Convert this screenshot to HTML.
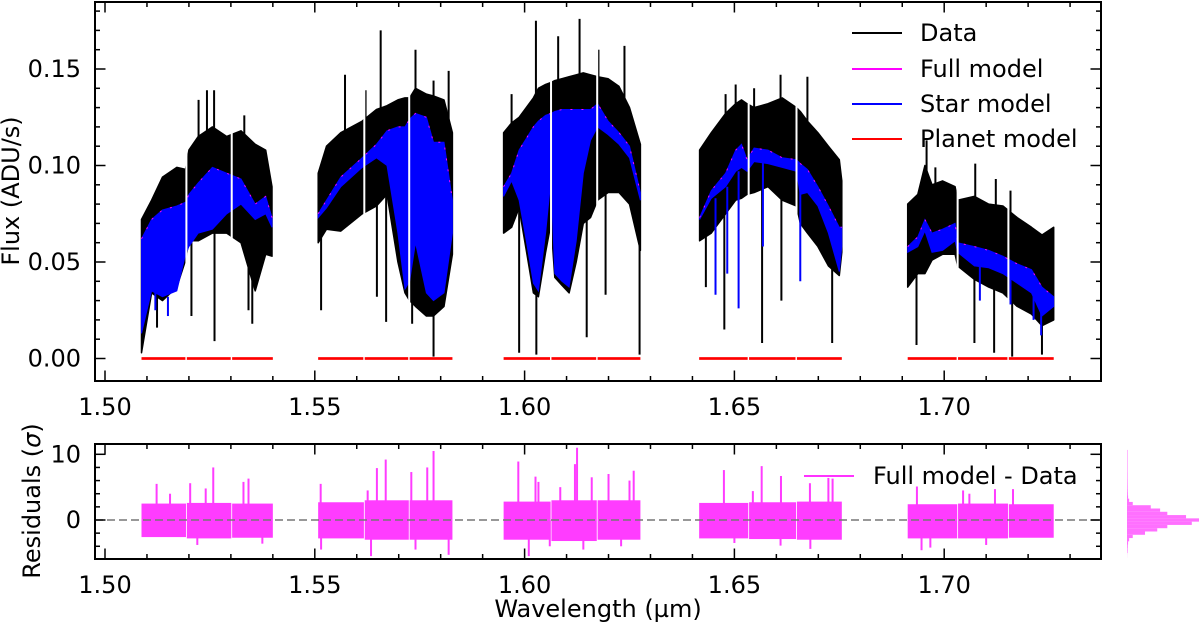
<!DOCTYPE html>
<html><head><meta charset="utf-8">
<style>
html,body{margin:0;padding:0;background:#fff;}
svg{display:block;font-family:"DejaVu Sans","Liberation Sans",sans-serif;}
</style></head>
<body>
<svg id="chart" width="1200" height="626" viewBox="0 0 1200 626" xmlns="http://www.w3.org/2000/svg">
<defs>
<clipPath id="clipTop"><rect x="95" y="2" width="1006" height="379"/></clipPath>
<clipPath id="clipBot"><rect x="95" y="444" width="1006" height="115"/></clipPath>
</defs>
<g id="top-data" clip-path="url(#clipTop)"></g>
<g id="bot-data" clip-path="url(#clipBot)"></g>
<g id="hist"></g>
<g id="axes"></g>
<text x="19" y="191" font-size="24" text-anchor="middle" transform="rotate(-90 19 191)">Flux (ADU/s)</text>
<text x="40" y="501" font-size="24" text-anchor="middle" transform="rotate(-90 40 501)">Residuals (<tspan font-style="italic">σ</tspan>)</text>
<text x="598" y="617" font-size="24" text-anchor="middle">Wavelength (µm)</text>
<g>
 <g><line x1="852" y1="33" x2="902" y2="33" stroke="#000" stroke-width="2"/><text x="920" y="41" font-size="24">Data</text></g>
 <g><line x1="852" y1="69" x2="902" y2="69" stroke="#ff00ff" stroke-width="2"/><text x="920" y="77" font-size="24">Full model</text></g>
 <g><line x1="852" y1="104" x2="902" y2="104" stroke="#0000ff" stroke-width="2"/><text x="920" y="112" font-size="24">Star model</text></g>
 <g><line x1="852" y1="139" x2="902" y2="139" stroke="#ff0000" stroke-width="2"/><text x="920" y="147" font-size="24">Planet model</text></g>
</g>
<g>
 <g><line x1="804" y1="476" x2="854" y2="476" stroke="#ff33ff" stroke-width="2"/><text x="873" y="484" font-size="24">Full model - Data</text></g>
</g>
</svg>
<script>
// ---- chip ranges (µm) ----
const chipStart=[1.5087,1.5195,1.5303,1.5508,1.5619,1.5726,1.5950,1.6064,1.6174,1.6416,1.6535,1.6649,1.6913,1.7033,1.7154];
const chipEnd  =[1.5193,1.5301,1.5400,1.5617,1.5724,1.5828,1.6062,1.6172,1.6276,1.6533,1.6647,1.6756,1.7031,1.7152,1.7261];
const chipSeg  =[0,0,0,1,1,1,2,2,2,3,3,3,4,4,4];
// ---- segment 1 ----
const seg1Wl=[1.5087,1.5111,1.5137,1.5171,1.5192,1.5200,1.5222,1.5256,1.5290,1.5324,1.5358,1.5383,1.5398];
const seg1Upper=[0.072,0.082,0.094,0.099,0.098,0.108,0.115,0.120,0.115,0.118,0.111,0.108,0.089];
const seg1Model=[0.062,0.072,0.077,0.079,0.081,0.085,0.091,0.099,0.096,0.093,0.080,0.084,0.073];
const seg1BlueLo=[0.013,0.035,0.032,0.035,0.054,0.058,0.065,0.067,0.075,0.080,0.072,0.075,0.068];
const seg1Lower=[0.003,0.034,0.030,0.037,0.051,0.061,0.061,0.065,0.065,0.060,0.035,0.054,0.053];
// ---- segment 2 ----
const seg2Wl=[1.5508,1.5528,1.5562,1.5613,1.5647,1.5672,1.5698,1.5715,1.5726,1.5740,1.5766,1.5783,1.5808,1.5828];
const seg2Upper=[0.096,0.110,0.117,0.123,0.129,0.131,0.134,0.135,0.135,0.140,0.137,0.136,0.134,0.117];
const seg2Model=[0.075,0.082,0.094,0.104,0.111,0.118,0.120,0.120,0.124,0.127,0.125,0.112,0.112,0.082];
const seg2BlueLo=[0.073,0.078,0.089,0.099,0.104,0.100,0.065,0.036,0.040,0.060,0.034,0.030,0.034,0.065];
const seg2Lower=[0.060,0.067,0.066,0.075,0.079,0.085,0.050,0.034,0.030,0.027,0.022,0.022,0.027,0.054];
// ---- segment 3 ----
const seg3Wl=[1.5950,1.5969,1.5987,1.6004,1.6021,1.6033,1.6050,1.6063,1.6072,1.6089,1.6106,1.6123,1.6140,1.6157,1.6174,1.6199,1.6225,1.6250,1.6276];
const seg3Upper=[0.117,0.122,0.125,0.130,0.135,0.140,0.142,0.143,0.144,0.145,0.146,0.147,0.148,0.147,0.146,0.145,0.141,0.130,0.111];
const seg3Model=[0.089,0.096,0.108,0.114,0.120,0.123,0.126,0.127,0.128,0.129,0.129,0.129,0.129,0.129,0.132,0.123,0.117,0.110,0.086];
const seg3BlueLo=[0.084,0.092,0.082,0.061,0.039,0.035,0.065,0.093,0.044,0.040,0.037,0.061,0.096,0.113,0.120,0.116,0.111,0.104,0.082];
const seg3Lower=[0.065,0.068,0.078,0.056,0.034,0.032,0.055,0.070,0.042,0.038,0.034,0.050,0.070,0.073,0.082,0.086,0.086,0.080,0.056];
// ---- segment 4 ----
const seg4Wl=[1.6417,1.6445,1.6479,1.6503,1.6517,1.6530,1.6547,1.6580,1.6614,1.6648,1.6657,1.6674,1.6699,1.6724,1.6750,1.6756];
const seg4Upper=[0.108,0.117,0.127,0.132,0.134,0.132,0.130,0.132,0.135,0.130,0.128,0.123,0.117,0.110,0.103,0.092];
const seg4Model=[0.073,0.087,0.096,0.108,0.111,0.103,0.109,0.108,0.104,0.103,0.101,0.098,0.089,0.079,0.068,0.068];
const seg4BlueLo=[0.072,0.083,0.089,0.097,0.099,0.097,0.102,0.101,0.099,0.097,0.085,0.086,0.079,0.065,0.045,0.058];
const seg4Lower=[0.061,0.065,0.075,0.082,0.083,0.085,0.086,0.089,0.082,0.079,0.070,0.065,0.058,0.048,0.043,0.055];
// ---- segment 5 ----
const seg5Wl=[1.6913,1.6937,1.6954,1.6971,1.6996,1.7026,1.7032,1.7072,1.7106,1.7140,1.7174,1.7208,1.7233,1.7261];
const seg5Upper=[0.080,0.085,0.100,0.090,0.092,0.089,0.082,0.084,0.080,0.079,0.073,0.068,0.064,0.068];
const seg5Model=[0.058,0.063,0.072,0.065,0.067,0.070,0.060,0.058,0.056,0.053,0.049,0.046,0.037,0.032];
const seg5BlueLo=[0.055,0.058,0.066,0.055,0.056,0.061,0.055,0.048,0.047,0.044,0.039,0.034,0.022,0.027];
const seg5Lower=[0.037,0.044,0.044,0.051,0.054,0.054,0.048,0.041,0.037,0.034,0.027,0.023,0.017,0.020];
// ---- data spikes (single pixels) ----
const dataSpikeWl=[1.5243,1.5260,1.5223,1.5332,1.5124,1.5206,1.5261,1.5342,1.5351,
 1.5657,1.5572,1.5621,1.5740,1.5819,1.5783,1.5515,1.5648,1.5670,1.5783,1.5732,
 1.6027,1.6131,1.6176,1.6238,1.6080,1.5969,1.5987,1.6028,1.6148,1.6193,1.6274,
 1.6503,1.6610,1.6674,1.6479,1.6547,1.6476,1.6566,1.6612,1.6733,1.6432,
 1.6958,1.6979,1.7074,1.7123,1.7158,1.6934,1.7072,1.7119,1.7162,1.7233];
const dataSpikeVal=[0.139,0.139,0.134,0.126,0.016,0.022,0.009,0.025,0.018,
 0.170,0.147,0.139,0.160,0.149,0.144,0.025,0.032,0.019,0.001,0.018,
 0.175,0.176,0.160,0.162,0.167,0.137,0.003,0.002,0.011,0.033,0.002,
 0.142,0.147,0.146,0.137,0.140,0.015,0.008,0.030,0.008,0.037,
 0.113,0.099,0.101,0.093,0.087,0.007,0.008,0.003,0.001,0.002];
// ---- star-model line dips ----
const starDipWl=[1.6455,1.6483,1.6510,1.6568,1.6657,1.7085,1.7158,1.7213,1.7231,1.5120,1.5150];
const starDipVal=[0.033,0.044,0.026,0.058,0.040,0.030,0.028,0.020,0.012,0.025,0.022];
// ---- residuals ----
const resHi=[2.5,2.6,2.5,2.7,3.0,3.0,2.8,3.0,3.0,2.6,2.7,2.8,2.4,2.5,2.4];
const resLo=[-2.6,-2.8,-2.7,-2.8,-3.0,-3.0,-3.0,-3.2,-3.0,-2.8,-2.9,-3.0,-2.8,-2.8,-2.7];
const resSpikeWl=[1.5123,1.5203,1.5258,1.5342,1.5155,1.5240,1.5330,1.5220,1.5375,
 1.5514,1.5669,1.5648,1.5783,1.5768,1.5730,1.5626,1.5634,1.5819,1.5740,1.5515,
 1.5985,1.6026,1.6033,1.6125,1.6120,1.6200,1.6085,1.6160,1.6250,1.6260,1.6010,1.6060,1.6140,1.6230,
 1.6475,1.6544,1.6565,1.6611,1.6680,1.6734,1.6724,1.6681,1.6610,1.6500,
 1.6935,1.7045,1.7121,1.7164,1.7060,1.6946,1.6967,1.7100];
const resSpikeVal=[5.5,5.6,8.0,6.3,4.0,4.8,5.8,-3.8,-3.6,
 5.5,9.2,7.9,10.5,8.0,7.3,4.5,-5.5,-5.3,-4.5,-4.5,
 8.9,6.6,5.8,11.0,8.5,7.0,5.0,6.5,6.0,7.5,-5.5,-4.0,-4.5,-4.0,
 7.6,4.4,8.2,6.7,5.6,6.3,6.4,-4.4,-3.9,-3.5,
 5.1,4.5,4.7,4.7,4.0,-4.6,-4.2,-3.8];
// ---- histogram ----
const histSigma=[-6,-5.5,-5,-4.5,-4,-3.5,-3,-2.5,-2,-1.5,-1,-0.5,0,0.5,1,1.5,2,2.5,3,3.5,4,4.5,5,5.5,6,6.5,7,7.5,8,8.5,9,9.5,10,10.5];
const histCount=[0,1,2,4,8,15,30,80,250,420,560,900,1000,820,560,460,330,80,30,15,10,7,5,4,3,2,2,1,1,1,1,1,1,1];
// ---- ticks ----
const xTickVals=[1.50,1.55,1.60,1.65,1.70];
const xTickLabels=["1.50","1.55","1.60","1.65","1.70"];
const yTickVals=[0,0.05,0.10,0.15];
const yTickLabels=["0.00","0.05","0.10","0.15"];
const rTickVals=[0,10];
const rTickLabels=["0","10"];

const NS="http://www.w3.org/2000/svg";
const X=w=>105+(w-1.5)*4196;
const Y=v=>358.5-v*1930;
const YR=s=>520-s*6.57;
function mk(tag,parent,attrs){const e=document.createElementNS(NS,tag);for(const k in attrs)e.setAttribute(k,attrs[k]);parent.appendChild(e);return e;}

const topG=document.getElementById('top-data');
const botG=document.getElementById('bot-data');
const segs=[[seg1Wl,seg1Upper,seg1Model,seg1BlueLo,seg1Lower],[seg2Wl,seg2Upper,seg2Model,seg2BlueLo,seg2Lower],[seg3Wl,seg3Upper,seg3Model,seg3BlueLo,seg3Lower],[seg4Wl,seg4Upper,seg4Model,seg4BlueLo,seg4Lower],[seg5Wl,seg5Upper,seg5Model,seg5BlueLo,seg5Lower]];
function band(wl,hi,lo){let p=wl.map((w,i)=>X(w).toFixed(1)+','+Y(hi[i]).toFixed(1));for(let i=wl.length-1;i>=0;i--)p.push(X(wl[i]).toFixed(1)+','+Y(lo[i]).toFixed(1));return p.join(' ');}
segs.forEach((s,k)=>{
  const d=mk('polygon',topG,{points:band(s[0],s[1],s[4]),fill:'#000',stroke:'#000','stroke-width':1.5,'stroke-linejoin':'round'});
  
  
});
dataSpikeWl.forEach((w,i)=>{
  let ref=0.08;
  segs.forEach(s=>{if(w>=s[0][0]-0.001&&w<=s[0][s[0].length-1]+0.001){let j=0;while(j<s[0].length-1&&s[0][j+1]<w)j++;ref=s[2][j];}});
  const l=mk('line',topG,{x1:X(w),x2:X(w),y1:Y(ref),y2:Y(dataSpikeVal[i]),stroke:'#000','stroke-width':2});
  
  
});
segs.forEach((s,k)=>{
  const b=mk('polygon',topG,{points:band(s[0],s[2],s[3]),fill:'#0000ff',stroke:'#0000ff','stroke-width':1});
  
  
  const m=mk('polyline',topG,{points:s[0].map((w,i)=>X(w).toFixed(1)+','+Y(s[2][i]).toFixed(1)).join(' '),fill:'none',stroke:'#ff00ff','stroke-width':1,'stroke-dasharray':'2 9'});
  
  
});
starDipWl.forEach((w,i)=>{
  let ref=0.06;
  segs.forEach(s=>{if(w>=s[0][0]&&w<=s[0][s[0].length-1]){let j=0;while(j<s[0].length-1&&s[0][j+1]<w)j++;ref=s[3][j];}});
  const l=mk('line',topG,{x1:X(w),x2:X(w),y1:Y(ref),y2:Y(starDipVal[i]),stroke:'#0000ff','stroke-width':2});
  
  
});
chipStart.forEach((w,i)=>{
  const r=mk('rect',topG,{x:X(w),y:Y(0.0007),width:X(chipEnd[i])-X(w),height:Y(-0.0007)-Y(0.0007),fill:'#ff0000'});
  
  
  if(i<chipStart.length-1&&chipSeg[i+1]===chipSeg[i]){
    const gx=(X(chipEnd[i])+X(chipStart[i+1]))/2;
    const g=mk('rect',topG,{x:gx-1,y:2,width:2,height:379,fill:'#fff'});
    
    
  }
  const rb=mk('rect',botG,{x:X(w),y:YR(resHi[i]),width:X(chipEnd[i])-X(w),height:YR(resLo[i])-YR(resHi[i]),fill:'#ff3cff'});
  
  
});
resSpikeWl.forEach((w,i)=>{
  const l=mk('line',botG,{x1:X(w),x2:X(w),y1:YR(0),y2:YR(resSpikeVal[i]),stroke:'#ff3cff','stroke-width':2});
  
  
});
const zl=mk('line',botG,{x1:95,x2:1101,y1:YR(0),y2:YR(0),stroke:'#777','stroke-width':1.5,'stroke-dasharray':'8 4'});



// histogram
const histG=document.getElementById('hist');
const hb=mk('line',histG,{x1:1127.5,x2:1127.5,y1:450,y2:553,stroke:'#ffc0ff','stroke-width':1});


histSigma.forEach((s,i)=>{
  const r=mk('rect',histG,{x:1127,y:YR(s+0.25),width:histCount[i]/1000*72,height:YR(s-0.25)-YR(s+0.25),fill:'#ff70ff'});
  
  
});

// axes
const axG=document.getElementById('axes');
function frame(y0,y1,name){const r=mk('rect',axG,{x:95,y:y0,width:1006,height:y1-y0,fill:'none',stroke:'#000','stroke-width':2});}
frame(2,381,'flux-panel-frame');
frame(444,559,'residual-panel-frame');
function tick(x1,y1,x2,y2){mk('line',axG,{x1:x1,y1:y1,x2:x2,y2:y2,stroke:'#000','stroke-width':1.5});}
for(let k=0;k<=24;k++){
  const w=1.5+k*0.01; const x=X(w); if(x<96||x>1100)continue;
  const L=(k%5===0)?10.5:5;
  tick(x,381,x,381-L);tick(x,2,x,2+L);tick(x,559,x,559-L);tick(x,444,x,444+L);
}
for(let k=0;k<=18;k++){
  const y=Y(k*0.01); if(y<3)continue; const L=(k%5===0)?10.5:5;
  tick(95,y,95+L,y);tick(1101,y,1101-L,y);
}
for(let s=-4;s<=10;s+=2){const y=YR(s);const L=(s%10===0)?10.5:5;tick(95,y,95+L,y);tick(1101,y,1101-L,y);}
xTickVals.forEach((v,i)=>{
  [415,593].forEach((by,j)=>{
    const t=mk('text',axG,{x:X(v),y:by,'font-size':24,'text-anchor':'middle'});t.textContent=xTickLabels[i];
    
    
  });
});
yTickVals.forEach((v,i)=>{
  const t=mk('text',axG,{x:81,y:Y(v)+8,'font-size':24,'text-anchor':'end'});t.textContent=yTickLabels[i];
  
  
});
rTickVals.forEach((v,i)=>{
  const t=mk('text',axG,{x:81,y:YR(v)+8,'font-size':24,'text-anchor':'end'});t.textContent=rTickLabels[i];
  
  
});
</script>
</body></html>
